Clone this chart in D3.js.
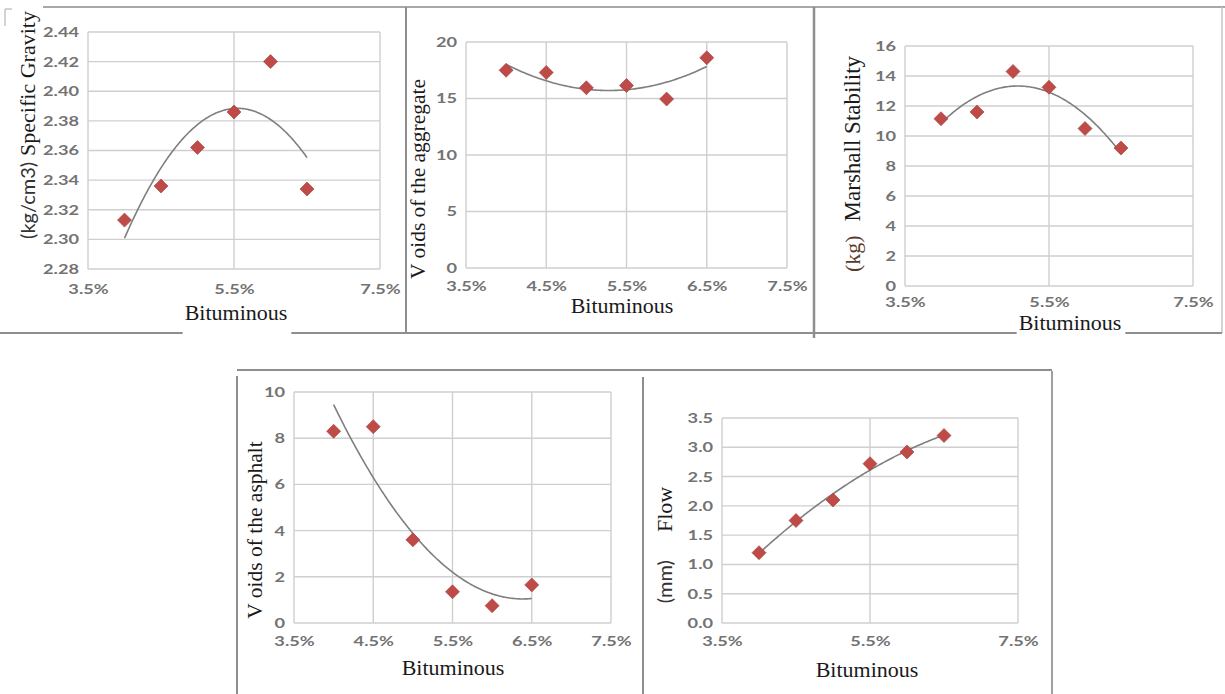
<!DOCTYPE html>
<html>
<head>
<meta charset="utf-8">
<script src="https://cdn.jsdelivr.net/npm/d3@7"></script>
<style>
  body { margin: 0; background: #fff; }
  svg { display: block; }
</style>
</head>
<body>
<svg id="fig" width="1225" height="694"></svg>
<script>
// Bitumen content of each Marshall specimen (% by weight of mix)
const bitumenContent = [4.0, 4.5, 5.0, 5.5, 6.0, 6.5];

// Measured properties at each bitumen content
const specificGravity   = [2.313, 2.336, 2.362, 2.386, 2.420, 2.334];
const aggregateVoids    = [17.5, 17.3, 15.95, 16.15, 14.95, 18.6];
const marshallStability = [11.15, 11.6, 14.3, 13.25, 10.5, 9.2];
const asphaltVoids      = [8.3, 8.5, 3.6, 1.35, 0.75, 1.65];
const flowValues        = [1.2, 1.75, 2.1, 2.72, 2.92, 3.2];

// Axis ticks
const xTicksCoarse   = [3.5, 5.5, 7.5];
const xTicksFine     = [3.5, 4.5, 5.5, 6.5, 7.5];
const gravityTicks   = [2.28, 2.30, 2.32, 2.34, 2.36, 2.38, 2.40, 2.42, 2.44];
const aggregateTicks = [0, 5, 10, 15, 20];
const stabilityTicks = [0, 2, 4, 6, 8, 10, 12, 14, 16];
const asphaltTicks   = [0, 2, 4, 6, 8, 10];
const flowTicks      = [0, 0.5, 1.0, 1.5, 2.0, 2.5, 3.0, 3.5];

const svg = d3.select("#fig");

const SERIF = "'Liberation Serif', 'Times New Roman', serif";
const SANS  = "Lato, 'Open Sans', sans-serif";
const GRID  = "#cfcfcf";
const FRAME = "#8e8e8e";
const MARK  = "#bf4b48";

// Least-squares polynomial trend line, fitted on centred x
function polyFit(xs, ys, order) {
  const xc = d3.mean(xs);
  const n = order + 1;
  const A = Array.from({ length: n }, () => new Array(n + 1).fill(0));
  xs.forEach((x0, i) => {
    const x = x0 - xc;
    for (let r = 0; r < n; r++) {
      for (let c = 0; c < n; c++) A[r][c] += Math.pow(x, r + c);
      A[r][n] += ys[i] * Math.pow(x, r);
    }
  });
  for (let k = 0; k < n; k++) {
    let p = k;
    for (let r = k + 1; r < n; r++) if (Math.abs(A[r][k]) > Math.abs(A[p][k])) p = r;
    [A[k], A[p]] = [A[p], A[k]];
    for (let r = k + 1; r < n; r++) {
      const f = A[r][k] / A[k][k];
      for (let c = k; c <= n; c++) A[r][c] -= f * A[k][c];
    }
  }
  const coef = new Array(n).fill(0);
  for (let k = n - 1; k >= 0; k--) {
    let s = A[k][n];
    for (let c = k + 1; c < n; c++) s -= A[k][c] * coef[c];
    coef[k] = s / A[k][k];
  }
  return x => coef.reduce((s, c, i) => s + c * Math.pow(x - xc, i), 0);
}

const panels = [
  {
    values: specificGravity, yTicks: gravityTicks, yFmt: d3.format(".2f"),
    xTicks: xTicksCoarse, box: { l: 88, r: 380, t: 32, b: 269 }, xPad: 15,
    order: 2,
    title: [{ text: "(kg/cm3)", font: SANS, size: 20, fill: "#333" },
            { text: "Specific Gravity", font: SERIF, size: 22, fill: "#1a1a1a", dx: 6 }],
    titlePos: [35, 125],
    xTitle: [236, 320], xTitleBg: true
  },
  {
    values: aggregateVoids, yTicks: aggregateTicks, yFmt: d3.format("d"),
    xTicks: xTicksFine, box: { l: 466, r: 787, t: 42, b: 268 }, xPad: 13,
    order: 2,
    title: [{ text: "V oids of the aggregate", font: SERIF, size: 21.5, fill: "#1a1a1a" }],
    titlePos: [425, 179],
    xTitle: [622, 313], xTitleBg: false
  },
  {
    values: marshallStability, yTicks: stabilityTicks, yFmt: d3.format("d"),
    xTicks: xTicksCoarse, box: { l: 905, r: 1193, t: 46, b: 286 }, xPad: 11,
    order: 2,
    title: [{ text: "(kg)", font: SERIF, size: 22, fill: "#5a3a2c" },
            { text: "Marshall Stability", font: SERIF, size: 23, fill: "#1a1a1a", dx: 14 }],
    titlePos: [860, 164],
    xTitle: [1070, 330], xTitleBg: true
  },
  {
    values: asphaltVoids, yTicks: asphaltTicks, yFmt: d3.format("d"),
    xTicks: xTicksFine, box: { l: 294, r: 611, t: 392, b: 623 }, xPad: 13,
    order: 2,
    title: [{ text: "V oids of the asphalt", font: SERIF, size: 21.5, fill: "#1a1a1a" }],
    titlePos: [262, 530],
    xTitle: [453, 675], xTitleBg: false
  },
  {
    values: flowValues, yTicks: flowTicks, yFmt: d3.format(".1f"),
    xTicks: xTicksCoarse, box: { l: 722, r: 1018, t: 418, b: 623 }, xPad: 13,
    order: 2,
    title: [{ text: "(mm)", font: SANS, size: 20, fill: "#333" },
            { text: "Flow", font: SERIF, size: 22, fill: "#1a1a1a", dx: 28 }],
    titlePos: [672, 545],
    xTitle: [867, 677], xTitleBg: false
  }
];

// Panel frames (drawn first so the x titles can mask them)
const frames = svg.append("g").attr("fill", "none");
const frameLines = [
  [43, 7, 1225, 7, "#a8a8a8", 2],
  [406, 7, 406, 333, FRAME, 2],
  [814, 7, 814, 338, FRAME, 2.5],
  [1222, 7, 1222, 333, "#c4c4c4", 1.5],
  [0, 333, 1222, 333, FRAME, 2],
  [5, 9, 12, 9, "#c4c4c4", 1.5],
  [5, 9, 5, 26, "#c4c4c4", 1.5],
  [237, 370, 1052, 370, FRAME, 2],
  [237, 376, 237, 694, FRAME, 2],
  [643, 377, 643, 694, FRAME, 2],
  [1052, 371, 1052, 694, "#a0a0a0", 2]
];
frames.selectAll("line").data(frameLines).join("line")
  .attr("x1", d => d[0]).attr("y1", d => d[1])
  .attr("x2", d => d[2]).attr("y2", d => d[3])
  .attr("stroke", d => d[4]).attr("stroke-width", d => d[5]);

panels.forEach(p => {
  const { l, r, t, b } = p.box;
  const x = d3.scaleLinear().domain([3.5, 7.5]).range([l, r]);
  const y = d3.scaleLinear().domain(d3.extent(p.yTicks)).range([b, t]);
  const g = svg.append("g");

  // gridlines and plot border
  g.append("g").selectAll("line").data(p.yTicks).join("line")
    .attr("x1", l).attr("x2", r)
    .attr("y1", d => y(d)).attr("y2", d => y(d))
    .attr("stroke", GRID).attr("stroke-width", 1.4);
  g.append("g").selectAll("line").data(p.xTicks).join("line")
    .attr("y1", t).attr("y2", b)
    .attr("x1", d => x(d)).attr("x2", d => x(d))
    .attr("stroke", GRID).attr("stroke-width", 1.4);

  // y axis labels
  const ya = g.append("g").attr("transform", `translate(${l},0)`)
    .call(d3.axisLeft(y).tickValues(p.yTicks).tickFormat(p.yFmt).tickSize(0));
  ya.select(".domain").remove();
  ya.selectAll("text")
    .attr("x", 0)
    .attr("transform", "translate(-9,0) scale(1.3,1)")
    .attr("font-family", SANS).attr("font-size", 14).attr("font-weight", 700)
    .attr("fill", "#737373");

  // x axis labels
  const xa = g.append("g").attr("transform", `translate(0,${b})`)
    .call(d3.axisBottom(x).tickValues(p.xTicks)
      .tickFormat(d => d3.format(".1f")(d) + "%").tickSize(0).tickPadding(p.xPad));
  xa.select(".domain").remove();
  xa.selectAll("text")
    .attr("transform", "scale(1.3,1)")
    .attr("font-family", SANS).attr("font-size", 14).attr("font-weight", 700)
    .attr("fill", "#737373");

  // trend line
  const fit = polyFit(bitumenContent, p.values, p.order);
  const xs = d3.range(d3.min(bitumenContent), d3.max(bitumenContent) + 1e-9, 0.02);
  g.append("path")
    .datum(xs)
    .attr("fill", "none").attr("stroke", "#7f7f7f").attr("stroke-width", 1.6)
    .attr("d", d3.line().x(d => x(d)).y(d => y(fit(d))));

  // markers
  const diamond = d3.symbol().type(d3.symbolSquare).size(98);
  g.append("g").selectAll("path").data(bitumenContent).join("path")
    .attr("d", diamond)
    .attr("transform", (d, i) => `translate(${x(d)},${y(p.values[i])}) rotate(45)`)
    .attr("fill", MARK).attr("stroke", "#a8403d").attr("stroke-width", 0.6);

  // y axis title
  const yt = g.append("text")
    .attr("transform", `translate(${p.titlePos[0]},${p.titlePos[1]}) rotate(-90)`)
    .attr("text-anchor", "middle");
  p.title.forEach(s => {
    yt.append("tspan").text(s.text)
      .attr("dx", s.dx || 0)
      .style("font-family", s.font).attr("font-size", s.size).attr("fill", s.fill);
  });

  // x axis title, on a white patch where it crosses the frame
  const xg = g.append("g");
  const xt = xg.append("text")
    .attr("x", p.xTitle[0]).attr("y", p.xTitle[1])
    .attr("text-anchor", "middle")
    .attr("font-family", SERIF).attr("font-size", 22).attr("fill", "#1a1a1a")
    .text("Bituminous");
  if (p.xTitleBg) {
    const bb = xt.node().getBBox();
    xg.insert("rect", ":first-child")
      .attr("x", bb.x - 2).attr("y", bb.y)
      .attr("width", bb.width + 6).attr("height", p.xTitle[1] + 17 - bb.y)
      .attr("fill", "#fff");
  }
});
</script>
</body>
</html>
